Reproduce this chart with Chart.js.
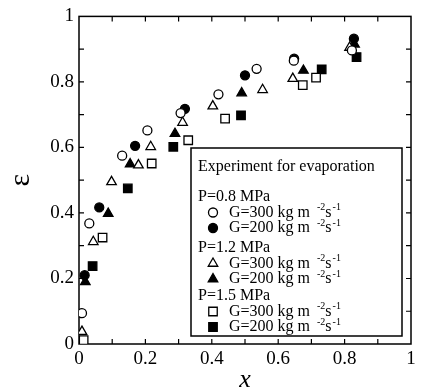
<!DOCTYPE html>
<html>
<head>
<meta charset="utf-8">
<script src="https://cdn.jsdelivr.net/npm/chart.js@4.4.0/dist/chart.umd.min.js"></script>
<style>
  html, body { margin: 0; padding: 0; background: #fff; }
  #wrap { width: 421px; height: 391px; }
</style>
</head>
<body>
<div id="wrap"><canvas id="evapChart" width="421" height="391"></canvas></div>
<script>
// datos (x = calidad, eps = fraccion de vacio)
var circ300X = [0.009, 0.031, 0.13, 0.206, 0.306, 0.42, 0.535, 0.647, 0.822];
var circ300Y = [0.094, 0.368, 0.575, 0.652, 0.705, 0.762, 0.84, 0.865, 0.896];
var circ200X = [0.017, 0.061, 0.169, 0.319, 0.5, 0.648, 0.828];
var circ200Y = [0.21, 0.417, 0.605, 0.718, 0.82, 0.871, 0.932];
var tri300X = [0.009, 0.043, 0.098, 0.179, 0.216, 0.312, 0.403, 0.553, 0.644, 0.815];
var tri300Y = [0.038, 0.312, 0.495, 0.546, 0.602, 0.676, 0.726, 0.776, 0.81, 0.905];
var tri200X = [0.019, 0.088, 0.154, 0.289, 0.49, 0.676, 0.83];
var tri200Y = [0.19, 0.398, 0.549, 0.642, 0.766, 0.835, 0.915];
var sq300X = [0.014, 0.071, 0.219, 0.329, 0.44, 0.674, 0.714];
var sq300Y = [0.012, 0.325, 0.551, 0.622, 0.688, 0.79, 0.813];
var sq200X = [0.041, 0.147, 0.284, 0.488, 0.731, 0.836];
var sq200Y = [0.238, 0.475, 0.602, 0.698, 0.838, 0.876];

var legendTitle = 'Experiment for evaporation';
var pressureLabels = ['P=0.8 MPa', 'P=1.2 MPa', 'P=1.5 MPa'];
var fluxLabels = ['G=300 kg m', 'G=200 kg m'];
var tickLabels = ['0', '0.2', '0.4', '0.6', '0.8', '1'];

var serif = '"Liberation Serif", "DejaVu Serif", serif';

function pts(xs, ys) {
    return xs.map(function (x, i) { return { x: x, y: ys[i] }; });
}

function serie(label, xs, ys, style, filled) {
    return {
        label: label,
        data: pts(xs, ys),
        pointStyle: style,
        pointRadius: style === 'circle' ? 4.5 : (style === 'triangle' ? 5.5 : 6),
        borderWidth: 1.3,
        borderColor: '#000',
        backgroundColor: filled ? '#000' : '#fff',
        showLine: false
    };
}

var series = [
    serie('circ300', circ300X, circ300Y, 'circle', false),
    serie('circ200', circ200X, circ200Y, 'circle', true),
    serie('tri300', tri300X, tri300Y, 'triangle', false),
    serie('tri200', tri200X, tri200Y, 'triangle', true),
    serie('sq300', sq300X, sq300Y, 'rect', false),
    serie('sq200', sq200X, sq200Y, 'rect', true)
];

// dibuja un marcador igual que en el grafico
function marker(ctx, style, x, y, filled) {
    ctx.save();
    ctx.beginPath();
    if (style === 'circle') {
        ctx.arc(x, y, 4.5, 0, Math.PI * 2);
    } else if (style === 'triangle') {
        var r = 5.5;
        ctx.moveTo(x, y - r);
        ctx.lineTo(x + r * 0.866, y + r * 0.5);
        ctx.lineTo(x - r * 0.866, y + r * 0.5);
        ctx.closePath();
    } else {
        var s = 6 * Math.SQRT1_2;
        ctx.rect(x - s, y - s, 2 * s, 2 * s);
    }
    ctx.fillStyle = filled ? '#000' : '#fff';
    ctx.fill();
    ctx.lineWidth = 1.3;
    ctx.strokeStyle = '#000';
    ctx.stroke();
    ctx.restore();
}

var frameTicks = {
    id: 'frameTicks',
    beforeDatasetsDraw: function (chart) {
        var ctx = chart.ctx, a = chart.chartArea;
        var sx = chart.scales.x, sy = chart.scales.y;
        ctx.save();
        ctx.strokeStyle = '#000';
        ctx.lineWidth = 1.5;
        ctx.strokeRect(a.left, a.top, a.right - a.left, a.bottom - a.top);
        ctx.lineWidth = 1.2;
        ctx.beginPath();
        for (var i = 1; i < 10; i++) {
            var px = sx.getPixelForValue(i / 10);
            var py = sy.getPixelForValue(i / 10);
            ctx.moveTo(px, a.bottom); ctx.lineTo(px, a.bottom - 5);
            ctx.moveTo(px, a.top); ctx.lineTo(px, a.top + 5);
            ctx.moveTo(a.left, py); ctx.lineTo(a.left + 5, py);
            ctx.moveTo(a.right, py); ctx.lineTo(a.right - 5, py);
        }
        ctx.stroke();
        ctx.restore();
    },
    afterDatasetsDraw: function (chart) {
        var ctx = chart.ctx;
        ctx.save();
        ctx.fillStyle = '#fff';
        ctx.fillRect(191, 148, 211, 188);
        ctx.strokeStyle = '#000';
        ctx.lineWidth = 1.5;
        ctx.strokeRect(191, 148, 211, 188);

        ctx.fillStyle = '#000';
        ctx.textBaseline = 'middle';
        ctx.font = '16px ' + serif;
        ctx.fillText(legendTitle, 198, 167);

        var styles = ['circle', 'triangle', 'rect'];
        var groupY = [197, 248, 296];
        for (var g = 0; g < 3; g++) {
            ctx.font = '16px ' + serif;
            ctx.fillText(pressureLabels[g], 198, groupY[g]);
            for (var k = 0; k < 2; k++) {
                var y = groupY[g] + 15.5 * (k + 1);
                marker(ctx, styles[g], 213, y, k === 1);
                ctx.font = '16px ' + serif;
                ctx.fillText(fluxLabels[k], 229, y);
                var x0 = 229 + ctx.measureText(fluxLabels[k]).width + 7;
                ctx.font = '10px ' + serif;
                ctx.fillText('-2', x0, y - 5);
                x0 += ctx.measureText('-2').width;
                ctx.font = '16px ' + serif;
                ctx.fillText('s', x0, y);
                x0 += ctx.measureText('s').width + 1;
                ctx.font = '10px ' + serif;
                ctx.fillText('-1', x0, y - 5);
            }
        }
        ctx.restore();
    }
};

function tickText(v) {
    var n = Math.round(v * 10);
    if (n % 2 !== 0) return '';
    return tickLabels[n / 2];
}

var ctx = document.getElementById('evapChart').getContext('2d');

var myChart = new Chart(ctx, {
    type: 'scatter',
    data: { datasets: series },
    options: {
        responsive: false,
        animation: false,
        layout: { padding: { top: 16, right: 10, left: 0, bottom: 0 } },
        plugins: {
            legend: { display: false },
            tooltip: { enabled: false }
        },
        scales: {
            x: {
                type: 'linear',
                min: 0,
                max: 1,
                afterFit: function (s) { s.height = 47; },
                grid: { display: false, drawTicks: false },
                border: { display: false },
                ticks: {
                    stepSize: 0.1,
                    autoSkip: false,
                    maxRotation: 0,
                    padding: 4,
                    color: '#000',
                    font: { family: serif, size: 19 },
                    callback: tickText
                },
                title: {
                    display: true,
                    text: 'x',
                    color: '#000',
                    padding: 0,
                    font: { family: serif, size: 26, style: 'italic', lineHeight: 0.8 }
                }
            },
            y: {
                type: 'linear',
                min: 0,
                max: 1,
                afterFit: function (s) { s.width = 79; },
                grid: { display: false, drawTicks: false },
                border: { display: false },
                ticks: {
                    stepSize: 0.1,
                    autoSkip: false,
                    padding: 5,
                    color: '#000',
                    font: { family: serif, size: 19 },
                    callback: tickText
                },
                title: {
                    display: true,
                    text: 'ε',
                    color: '#000',
                    padding: { top: 6, bottom: 0 },
                    font: { family: serif, size: 30, lineHeight: 1 }
                }
            }
        }
    },
    plugins: [frameTicks]
});
</script>
</body>
</html>
